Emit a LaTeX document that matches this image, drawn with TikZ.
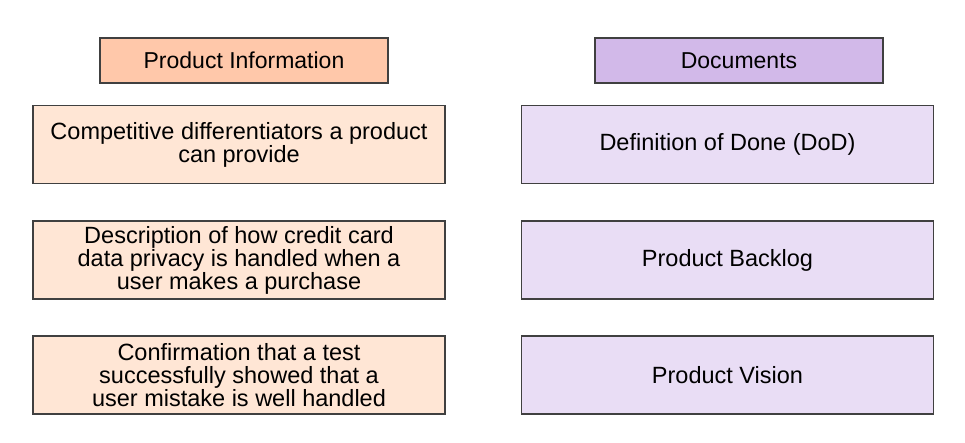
\documentclass[tikz,border=0pt]{standalone}
\usepackage{fontspec}
\setmainfont{Liberation Sans}
\definecolor{infoheadfill}{HTML}{FFC8AA}
\definecolor{infofill}{HTML}{FFE6D5}
\definecolor{docheadfill}{HTML}{D2B9E9}
\definecolor{docfill}{HTML}{E9DDF5}
\definecolor{edge}{HTML}{404040}
\tikzset{
  head/.style={draw=edge,line width=1.3pt,minimum width=288pt,minimum height=45pt,inner sep=0pt,font=\fontsize{23}{23}\selectfont},
  card/.style={draw=edge,line width=1.3pt,minimum width=412pt,minimum height=78pt,inner sep=0pt,align=center,font=\fontsize{23.5}{23}\selectfont}
}
\begin{document}
\begin{tikzpicture}[x=1pt,y=-1pt]
  \path[use as bounding box] (0,0) rectangle (965,443);
  \node[head,fill=infoheadfill] (info) at (244,60.5) {Product Information};
  \node[head,fill=docheadfill] (docs) at (739,60.5) {Documents};

  \node[card,fill=infofill] (i1) at (239,144.5) {Competitive differentiators a product\\can provide};
  \node[card,fill=infofill] (i2) at (239,260) {Description of how credit card\\data privacy is handled when a\\user makes a purchase};
  \node[card,fill=infofill] (i3) at (239,375) {Confirmation that a test\\successfully showed that a\\user mistake is well handled};

  \node[card,fill=docfill] (d1) at (727.5,144.5) {Definition of Done (DoD)};
  \node[card,fill=docfill] (d2) at (727.5,260) {Product Backlog};
  \node[card,fill=docfill] (d3) at (727.5,375) {Product Vision};
\end{tikzpicture}
\end{document}
